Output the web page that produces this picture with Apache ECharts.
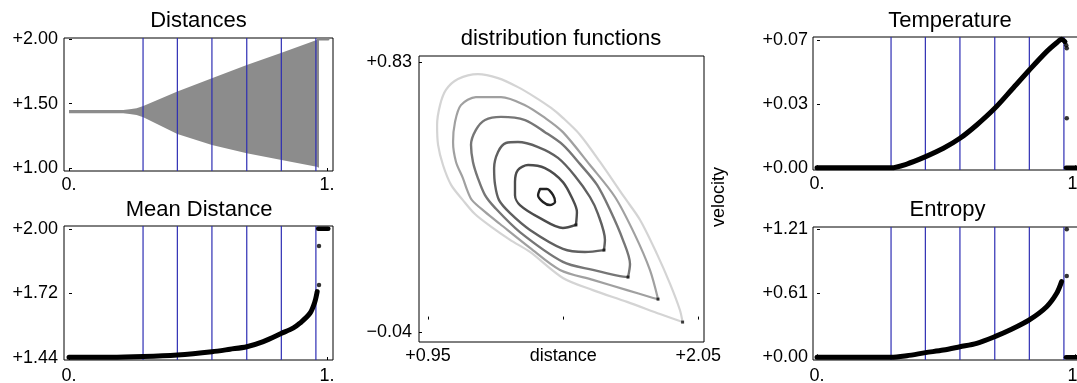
<!DOCTYPE html>
<html>
<head>
<meta charset="utf-8">
<title>distribution functions</title>
<script src="https://cdn.jsdelivr.net/npm/echarts@6/dist/echarts.min.js"></script>
<style>
  html, body { margin: 0; padding: 0; background: #fff; }
  #chart { width: 1077px; height: 383px; }
</style>
</head>
<body>
<div id="chart"></div>
<script>
// 竖线位置 (所有小图共用)
const vlineX = [0.287, 0.420, 0.554, 0.689, 0.823, 0.957]
const unitTicks = [0, 1]
const unitTickLabels = ['0.', '1.']

// Distances
const distTicks = [1.0, 1.5, 2.0]
const distTickLabels = ['+1.00', '+1.50', '+2.00']
const distX = [0, 0.21, 0.235, 0.262, 0.288, 0.42, 0.554, 0.689, 0.824, 0.96, 0.969]
const distUpper = [1.451, 1.451, 1.456, 1.464, 1.482, 1.593, 1.696, 1.799, 1.894, 1.992, 1.995]
const distLower = [1.425, 1.425, 1.420, 1.412, 1.394, 1.265, 1.180, 1.116, 1.064, 1.012, 1.005]
const distTopRow = [[0.965, 2.0], [1.004, 2.0]]

// Mean Distance
const meanTicks = [1.44, 1.72, 2.0]
const meanTickLabels = ['+1.44', '+1.72', '+2.00']
const meanCurve = [[0, 1.443], [0.159, 1.443], [0.288, 1.446], [0.42, 1.453], [0.554, 1.467], [0.624, 1.478],
  [0.689, 1.489], [0.753, 1.511], [0.824, 1.547], [0.870, 1.571], [0.895, 1.591], [0.934, 1.634], [0.953, 1.684], [0.962, 1.728]]
const meanOutliers = [[0.969, 1.757], [0.969, 1.926]]
const meanTopRow = [[0.966, 2.001], [1.005, 2.001]]

// Temperature
const tempTicks = [0, 0.0345, 0.069]
const tempTickLabels = ['+0.00', '+0.03', '+0.07']
const tempCurve = [[0, 0.0003], [0.287, 0.0003], [0.348, 0.0023], [0.421, 0.0063], [0.490, 0.0108], [0.554, 0.0162],
  [0.619, 0.0234], [0.689, 0.0324], [0.756, 0.0427], [0.823, 0.0531], [0.890, 0.0630], [0.929, 0.0678], [0.948, 0.0697], [0.961, 0.0684]]
const tempOutliers = [[0.966, 0.0665], [0.968, 0.0648], [0.968, 0.0270]]
const tempZeroRow = [[0.965, 0.0003], [1.005, 0.0003]]

// Entropy
const entTicks = [0, 0.605, 1.21]
const entTickLabels = ['+0.00', '+0.61', '+1.21']
const entCurve = [[0, 0], [0.287, 0], [0.348, 0.015], [0.421, 0.044], [0.490, 0.069], [0.554, 0.100], [0.619, 0.132],
  [0.689, 0.195], [0.756, 0.267], [0.823, 0.353], [0.890, 0.478], [0.929, 0.605], [0.948, 0.715]]
const entOutliers = [[0.968, 0.768], [0.968, 1.21]]
const entZeroRow = [[0.965, 0], [1.005, 0]]

// distribution functions (distance, velocity)
const dfTicksX = [0.95, 1.5, 2.05]
const dfTickLabelsX = ['+0.95', 'distance', '+2.05']
const dfTicksY = [-0.04, 0.83]
const dfTickLabelsY = ['\u22120.04', '+0.83']
const loopE = [[1.986, -0.008], [1.975, 0.031], [1.935, 0.115], [1.882, 0.211], [1.813, 0.321], [1.748, 0.395], [1.650, 0.508],
  [1.569, 0.595], [1.499, 0.650], [1.451, 0.682], [1.385, 0.717], [1.316, 0.749], [1.235, 0.778], [1.153, 0.791], [1.072, 0.775],
  [1.023, 0.740], [0.999, 0.691], [0.987, 0.627], [0.991, 0.563], [1.011, 0.498], [1.044, 0.434], [1.092, 0.385], [1.141, 0.340],
  [1.202, 0.302], [1.284, 0.257], [1.365, 0.218], [1.499, 0.134], [1.621, 0.095], [1.760, 0.057], [1.894, 0.018], [1.986, -0.008]]
const loopD = [[1.886, 0.066], [1.853, 0.160], [1.792, 0.273], [1.711, 0.395], [1.609, 0.498], [1.499, 0.604], [1.426, 0.650],
  [1.345, 0.691], [1.247, 0.717], [1.145, 0.717], [1.084, 0.691], [1.060, 0.637], [1.052, 0.572], [1.064, 0.508], [1.092, 0.456],
  [1.109, 0.418], [1.129, 0.385], [1.182, 0.347], [1.243, 0.308], [1.365, 0.231], [1.487, 0.160], [1.621, 0.128], [1.760, 0.095],
  [1.853, 0.073], [1.886, 0.066]]
const loopC = [[1.764, 0.137], [1.772, 0.179], [1.743, 0.257], [1.691, 0.353], [1.638, 0.434], [1.569, 0.501], [1.499, 0.563],
  [1.426, 0.604], [1.345, 0.643], [1.247, 0.653], [1.182, 0.643], [1.145, 0.611], [1.125, 0.563], [1.133, 0.508], [1.153, 0.456],
  [1.182, 0.401], [1.223, 0.360], [1.324, 0.282], [1.499, 0.186], [1.621, 0.160], [1.731, 0.140], [1.764, 0.137]]
const loopB = [[1.666, 0.224], [1.670, 0.257], [1.642, 0.340], [1.609, 0.395], [1.548, 0.463], [1.479, 0.521], [1.398, 0.556],
  [1.316, 0.572], [1.267, 0.569], [1.235, 0.540], [1.219, 0.488], [1.223, 0.434], [1.239, 0.385], [1.284, 0.343], [1.365, 0.289],
  [1.499, 0.228], [1.589, 0.218], [1.666, 0.224]]
const loopA = [[1.552, 0.305], [1.556, 0.347], [1.540, 0.385], [1.499, 0.443], [1.426, 0.488], [1.357, 0.498], [1.316, 0.482],
  [1.304, 0.443], [1.304, 0.401], [1.324, 0.369], [1.406, 0.327], [1.499, 0.295], [1.552, 0.305]]
const loopCore = [[1.406, 0.421], [1.434, 0.421], [1.459, 0.401], [1.467, 0.379], [1.446, 0.369], [1.418, 0.379], [1.398, 0.401], [1.406, 0.421]]
const loopCorners = [[1.986, -0.008], [1.886, 0.066], [1.764, 0.137], [1.666, 0.224], [1.552, 0.305]]

const FONT = '"Liberation Sans", Arial, sans-serif'

function pickLabel (ticks, labels) {
  return v => {
    const i = ticks.findIndex(t => Math.abs(t - v) < 1e-9)
    return i >= 0 ? labels[i] : ''
  }
}

function makeAxis (gridIndex, min, max, ticks, labels, margin) {
  return {
    type: 'value',
    gridIndex: gridIndex,
    min: min,
    max: max,
    axisLine: { show: false },
    splitLine: { show: false },
    axisTick: { show: true, inside: true, length: 3, customValues: ticks, lineStyle: { color: '#000', width: 1 } },
    axisLabel: {
      customValues: ticks,
      margin: margin,
      color: '#000',
      fontSize: 18,
      fontFamily: FONT,
      formatter: pickLabel(ticks, labels)
    }
  }
}

// 竖线: 每条线贯穿整个绘图区
function vlines (xi, yi, yMid) {
  return {
    type: 'custom',
    xAxisIndex: xi,
    yAxisIndex: yi,
    silent: true,
    z: 4,
    data: vlineX.map(x => [x, yMid]),
    renderItem: (params, api) => {
      const px = api.coord([api.value(0), yMid])[0]
      const cs = params.coordSys
      return {
        type: 'line',
        shape: { x1: px, y1: cs.y, x2: px, y2: cs.y + cs.height },
        style: { stroke: '#2e2eb4', lineWidth: 1.2 }
      }
    }
  }
}

function curve (xi, yi, data, width, color) {
  return {
    type: 'line', xAxisIndex: xi, yAxisIndex: yi, data: data,
    symbol: 'none', smooth: 0.3, silent: true, z: 5,
    lineStyle: { color: color || '#000', width: width, join: 'round', cap: 'round' }
  }
}

function dots (xi, yi, data, size, color, shape) {
  return {
    type: 'scatter', xAxisIndex: xi, yAxisIndex: yi, data: data,
    symbol: shape || 'circle', symbolSize: size, silent: true, z: 6,
    itemStyle: { color: color || '#000' }
  }
}

const chart = echarts.init(document.getElementById('chart'))
const frame = { show: true, borderColor: '#000', borderWidth: 1, containLabel: false, outerBoundsMode: 'none' }

const option = {
  animation: false,
  backgroundColor: '#fff',
  grid: [
    Object.assign({ left: 64, top: 38, width: 269, height: 133 }, frame),
    Object.assign({ left: 64, top: 226, width: 269, height: 134 }, frame),
    Object.assign({ left: 419, top: 56, width: 285, height: 286 }, frame),
    Object.assign({ left: 813, top: 37, width: 269, height: 133 }, frame),
    Object.assign({ left: 813, top: 227, width: 269, height: 133 }, frame)
  ],
  xAxis: [
    makeAxis(0, -0.0194, 1.0233, unitTicks, unitTickLabels, 5),
    makeAxis(1, -0.0194, 1.0233, unitTicks, unitTickLabels, 7),
    makeAxis(2, 0.9134, 2.0731, dfTicksX, dfTickLabelsX, 5),
    makeAxis(3, -0.0155, 1.0271, unitTicks, unitTickLabels, 5),
    makeAxis(4, -0.0155, 1.0271, unitTicks, unitTickLabels, 7)
  ],
  yAxis: [
    makeAxis(0, 0.9791, 2.0077, distTicks, distTickLabels, 6),
    makeAxis(1, 1.4313, 2.013, meanTicks, meanTickLabels, 6),
    makeAxis(2, -0.0722, 0.8493, dfTicksY, dfTickLabelsY, 7),
    makeAxis(3, -0.0009, 0.0709, tempTicks, tempTickLabels, 5),
    makeAxis(4, -0.0255, 1.2317, entTicks, entTickLabels, 5)
  ],
  graphic: [
    { type: 'text', x: 198.5, y: 21, style: { text: 'Distances', font: '22px ' + FONT, fill: '#000', align: 'center', verticalAlign: 'middle' } },
    { type: 'text', x: 199, y: 210, style: { text: 'Mean Distance', font: '22px ' + FONT, fill: '#000', align: 'center', verticalAlign: 'middle' } },
    { type: 'text', x: 561, y: 39, style: { text: 'distribution functions', font: '22px ' + FONT, fill: '#000', align: 'center', verticalAlign: 'middle' } },
    { type: 'text', x: 950, y: 21, style: { text: 'Temperature', font: '22px ' + FONT, fill: '#000', align: 'center', verticalAlign: 'middle' } },
    { type: 'text', x: 947.5, y: 210, style: { text: 'Entropy', font: '22px ' + FONT, fill: '#000', align: 'center', verticalAlign: 'middle' } },
    { type: 'text', x: 719, y: 197, rotation: Math.PI / 2, style: { text: 'velocity', font: '18px ' + FONT, fill: '#000', align: 'center', verticalAlign: 'middle' } }
  ],
  series: [
    // Distances: 灰色散点带 (用上下包络多边形表示)
    {
      type: 'custom',
      xAxisIndex: 0,
      yAxisIndex: 0,
      silent: true,
      z: 3,
      data: [[0.5, 1.5]],
      renderItem: (params, api) => {
        const top = distX.map((x, i) => api.coord([x, distUpper[i]]))
        const bottom = distX.map((x, i) => api.coord([x, distLower[i]])).reverse()
        return { type: 'polygon', shape: { points: top.concat(bottom) }, style: { fill: '#8c8c8c' } }
      }
    },
    curve(0, 0, distTopRow, 3, '#858585'),
    vlines(0, 0, 1.5),

    // Mean Distance
    vlines(1, 1, 1.7),
    curve(1, 1, meanCurve, 5),
    dots(1, 1, meanOutliers, 4.5),
    curve(1, 1, meanTopRow, 4.5),

    // distribution functions
    curve(2, 2, loopE, 2.2, '#d4d4d4'),
    curve(2, 2, loopD, 2.2, '#a0a0a0'),
    curve(2, 2, loopC, 2.4, '#767676'),
    curve(2, 2, loopB, 2.4, '#606060'),
    curve(2, 2, loopA, 2.4, '#4c4c4c'),
    curve(2, 2, loopCore, 2.4, '#222'),
    dots(2, 2, loopCorners, 3, '#111', 'rect'),

    // Temperature
    vlines(3, 3, 0.03),
    curve(3, 3, tempCurve, 5),
    dots(3, 3, tempOutliers, 4.5),
    curve(3, 3, tempZeroRow, 4.5),

    // Entropy
    vlines(4, 4, 0.6),
    curve(4, 4, entCurve, 5),
    dots(4, 4, entOutliers, 4.5),
    curve(4, 4, entZeroRow, 4.5)
  ]
}

chart.setOption(option)
</script>
</body>
</html>
